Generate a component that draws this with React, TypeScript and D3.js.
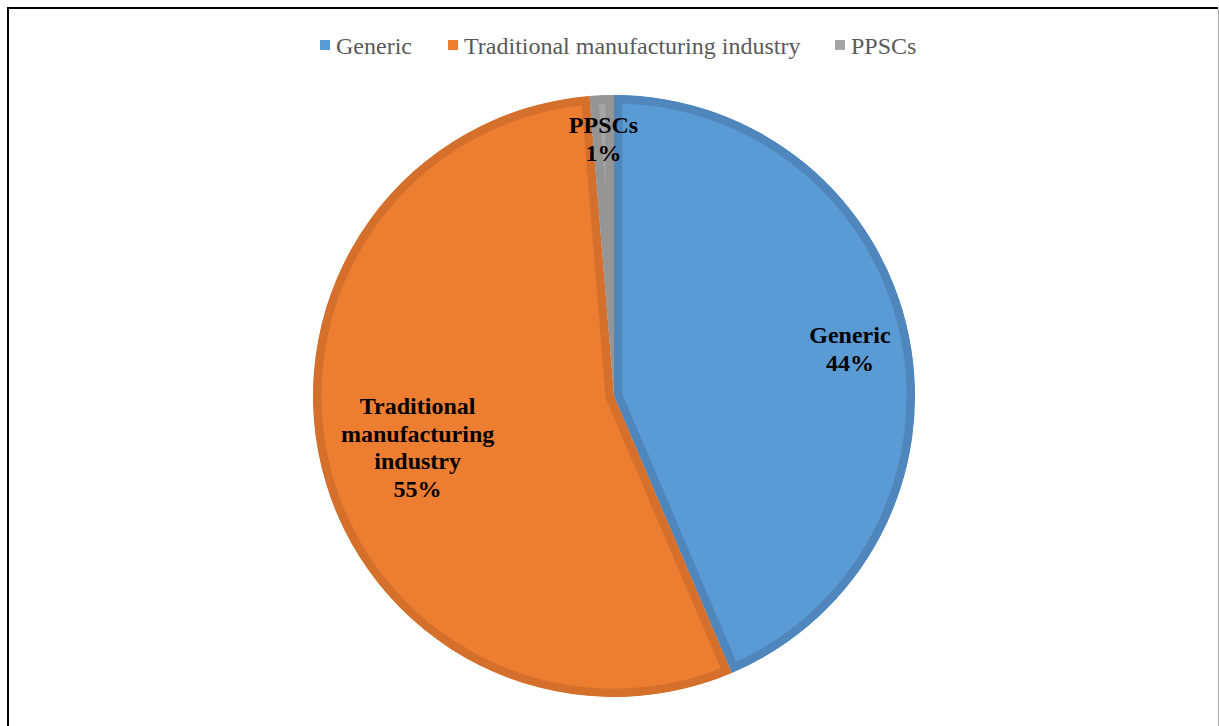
import React from "react";
import * as d3 from "d3";

const categories = ["Generic", "Traditional manufacturing industry", "PPSCs"];
const values = [43.6, 55.1, 1.3];
const percentLabels = ["44%", "55%", "1%"];
const fills = ["#5B9BD5", "#ED7D31", "#A5A5A5"];
const strokes = ["#4F87BD", "#D5702C", "#959595"];

const W = 1219;
const H = 726;
const cx = 614;
const cy = 396;
const R = 301;

export default function App() {
  const pie = d3.pie<number>().sort(null).value((d) => d)(values);
  const arc = d3.arc<d3.PieArcDatum<number>>().innerRadius(0).outerRadius(R);

  const labelLines: string[][] = [
    ["Generic", percentLabels[0]],
    ["Traditional", "manufacturing", "industry", percentLabels[1]],
    ["PPSCs", percentLabels[2]],
  ];
  const labelRadius = [0.8, 0.672, 0.855];
  const labelDy = [1, 3, 0];

  const legendX = [320, 448, 835];

  return (
    <svg
      width={W}
      height={H}
      style={{ position: "absolute", left: 0, top: 0, background: "#fff" }}
      fontFamily="'Liberation Serif', 'Times New Roman', serif"
    >
      <rect x={0} y={0} width={W} height={H} fill="#fff" />
      <line x1={8} y1={8} x2={1218} y2={8} stroke="#000" strokeWidth={2} />
      <line x1={8} y1={7} x2={8} y2={H} stroke="#000" strokeWidth={2} />
      <line x1={1218.5} y1={9} x2={1218.5} y2={H} stroke="#AAAAAA" strokeWidth={1} />

      {categories.map((c, i) => (
        <g key={c}>
          <rect x={legendX[i]} y={40} width={10} height={10} fill={fills[i]} />
          <text x={legendX[i] + 16} y={54} fontSize={24} fill="#595959">
            {c}
          </text>
        </g>
      ))}

      <g transform={`translate(${cx},${cy})`}>
        <defs>
          {pie.map((p, i) => (
            <clipPath id={`clip${i}`} key={i}>
              <path d={arc(p) || ""} />
            </clipPath>
          ))}
        </defs>
        {pie.map((p, i) => (
          <path
            key={i}
            d={arc(p) || ""}
            fill={fills[i]}
            stroke={strokes[i]}
            strokeWidth={17}
            strokeLinejoin="miter"
            clipPath={`url(#clip${i})`}
          />
        ))}
      </g>

      {pie.map((p, i) => {
        const a = (p.startAngle + p.endAngle) / 2;
        const r = R * labelRadius[i];
        const x = cx + r * Math.sin(a);
        const y = cy - r * Math.cos(a) + labelDy[i];
        const lines = labelLines[i];
        const lh = 27.7;
        const y0 = y - ((lines.length - 1) * lh) / 2;
        return (
          <text
            key={i}
            x={x}
            textAnchor="middle"
            fontSize={24}
            fontWeight="bold"
            fill="#000"
          >
            {lines.map((l, j) => (
              <tspan key={j} x={x} y={y0 + j * lh + 8}>
                {l}
              </tspan>
            ))}
          </text>
        );
      })}
    </svg>
  );
}
